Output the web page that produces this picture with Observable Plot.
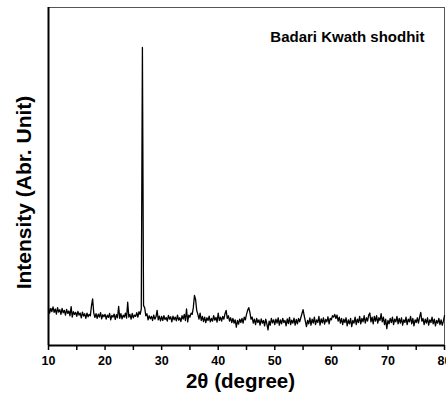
<!DOCTYPE html>
<html>
<head>
<meta charset="utf-8">
<script src="https://cdn.jsdelivr.net/npm/d3@7"></script>
<script src="https://cdn.jsdelivr.net/npm/@observablehq/plot@0.6"></script>
<style>
  html, body { margin: 0; padding: 0; background: #fff; }
  #chart { width: 446px; height: 395px; }
</style>
</head>
<body>
<div id="chart"></div>
<script>
// 2θ sampling: start, step (degrees)
const startAngle = 10;
const stepAngle = 0.2;

// Intensity readings (arbitrary units), 0.2° apart
const seg10 = [112,96,110,100,114,98,108,93,112,99,106,92,110,97,104,90,107,95,102,88,115,84,100,92,98,86,101,90,96,82,99,87,94,80,96,85,92,88,118,138,96,83,94,80,93,84,97,79,91,85];
const seg20 = [92,78,90,83,95,76,89,84,93,77,91,82,116,80,94,79,90,84,96,81,128,84,92,78,95,82,90,86,97,84,100,92,108,882,118,112,88,94,76,88,79,86,74,90,78,85,104,76,87,73];
const seg30 = [86,74,88,77,83,72,89,78,85,70,87,76,84,73,90,75,82,71,88,78,92,74,108,70,90,84,96,92,112,148,136,104,92,78,96,74,86,71,84,68,82,74,87,70,80,72,88,75,83,69];
const seg40 = [96,74,84,72,86,78,94,104,80,88,72,82,68,80,66,76,54,74,63,78,68,80,66,84,76,92,104,112,98,78,84,66,78,62,80,68,76,60,79,66,74,58,78,64,46,72,60,80,67,76];
const seg50 = [62,78,66,82,60,76,64,80,68,74,58,79,65,83,62,75,66,81,60,77,64,80,70,82,94,106,88,72,56,74,64,82,60,78,66,84,62,76,68,86,60,79,67,82,63,77,70,85,64,80];
const seg60 = [76,88,84,92,80,90,72,84,66,80,62,78,68,82,58,76,64,80,56,74,66,84,62,78,68,86,64,80,70,88,66,82,72,90,96,70,84,64,86,72,88,66,82,74,94,70,84,62,78,50];
const seg70 = [74,64,80,68,84,62,78,70,86,64,80,66,82,60,76,68,84,62,78,70,86,64,80,58,76,68,82,66,84,98,72,80,62,78,66,82,60,76,68,84,64,78,58,74,66,80,62,76,60,72,88];

const xTicks = [10,15,20,25,30,35,40,45,50,55,60,65,70,75,80];
const sampleName = "Badari Kwath shodhit";
const xLabel = "2θ (degree)";
const yLabel = "Intensity (Abr. Unit)";

const intensities = [...seg10, ...seg20, ...seg30, ...seg40, ...seg50, ...seg60, ...seg70];
const data = intensities.map((v, i) => ({angle: +(startAngle + i * stepAngle).toFixed(1), intensity: v}));

const font = "'Liberation Sans', Arial, sans-serif";

const chart = Plot.plot({
  width: 446,
  height: 395,
  marginLeft: 48,
  marginRight: 2,
  marginTop: 7,
  marginBottom: 50,
  style: {fontFamily: font, background: "#fff", overflow: "visible"},
  x: {domain: [10, 80]},
  y: {domain: [0, 1000], axis: null},
  marks: [
    Plot.frame({stroke: "#555", strokeWidth: 1}),
    Plot.line(data, {x: "angle", y: "intensity", stroke: "#000", strokeWidth: 1.3}),
    Plot.ruleX([10], {stroke: "#000", strokeWidth: 2}),
    Plot.ruleY([0], {stroke: "#000", strokeWidth: 2}),
    Plot.axisX({
      ticks: xTicks,
      tickSize: 5,
      tickPadding: 6,
      tickFormat: d => d % 10 === 0 ? String(d) : "",
      fontSize: 12.5,
      fontWeight: "bold",
      stroke: "#000",
      strokeWidth: 1.5,
      label: null
    }),
    Plot.text([xLabel], {frameAnchor: "bottom", textAnchor: "middle", lineAnchor: "middle", dy: 36, dx: -6, fontSize: 20.5, fontWeight: "bold", fill: "#000"}),
    Plot.text([yLabel], {frameAnchor: "left", textAnchor: "middle", lineAnchor: "middle", rotate: -90, dx: -24, dy: 16, fontSize: 21, fontWeight: "bold", fill: "#000", letterSpacing: "0.4px"}),
    Plot.text([sampleName], {frameAnchor: "top-right", textAnchor: "end", lineAnchor: "middle", dx: -20, dy: 30, fontSize: 15, fontWeight: "bold", fill: "#000"})
  ]
});
document.getElementById("chart").appendChild(chart);
</script>
</body>
</html>
